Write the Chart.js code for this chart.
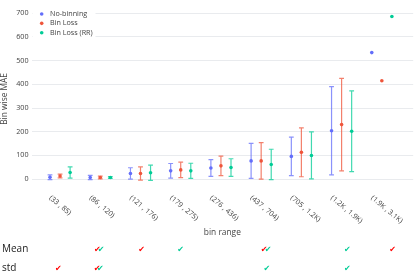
<!DOCTYPE html>
<html><head><meta charset="utf-8">
<script src="https://cdn.jsdelivr.net/npm/chart.js@4/dist/chart.umd.min.js"></script>
<style>html,body{margin:0;padding:0;background:#fff}#wrap{width:415px;height:274px}</style>
</head><body><div id="wrap"><canvas id="c" width="415" height="274"></canvas></div>
<script>
const categories = ["(33 , 85)","(86 , 120)","(121 , 176)","(179 , 275)","(276 , 436)","(437 , 704)","(705 , 1.2K)","(1.2K , 1.9K)","(1.9K , 3.1K)"];
const seriesNames = ["No-binning","Bin Loss","Bin Loss (RR)"];
const noBinMean = [8, 7, 24, 35, 47, 77, 96, 204, 534];
const noBinStd = [10, 9, 24, 31, 35, 74, 81, 186, 0];
const binLossMean = [13, 7, 24, 39, 56, 77, 113, 230, 415];
const binLossStd = [8, 6, 28, 33, 41, 77, 103, 195, 0];
const rrMean = [28, 7, 27, 35, 49, 62, 100, 202, 686];
const rrStd = [24, 4, 32, 32, 37, 64, 99, 170, 0];
const yTicks = [0, 100, 200, 300, 400, 500, 600, 700];
// check-mark annotations: [category index, series index]
const meanChecks = [[1,1],[1,2],[2,1],[3,2],[5,1],[5,2],[7,2],[8,1]];
const stdChecks = [[0,1],[1,1],[1,2],[5,2],[7,2]];
const meanNudge = [-0.07, 0.02, 0.03, 0, 0.07, 0.17, 0.14, 0.27];
const stdNudge = [-0.04, -0.08, 0, 0.14, 0.14];

const colors = ["#636efa", "#EF553B", "#00cc96"];
const barColors = ["rgba(99,110,250,0.75)", "rgba(239,85,59,0.75)", "rgba(0,204,150,0.75)"];
const checkColors = ["#636efa", "#ff0000", "#00cc96"];
const offsets = [-0.25, 0, 0.25];
const means = [noBinMean, binLossMean, rrMean];
const stds = [noBinStd, binLossStd, rrStd];
const FONT = "'Open Sans', 'DejaVu Sans', sans-serif";

const datasets = seriesNames.map((name, s) => ({
  label: name,
  data: means[s].map((v, i) => ({x: i + offsets[s], y: v, e: stds[s][i]})),
  backgroundColor: colors[s],
  borderColor: colors[s],
  pointRadius: 1.8,
  pointHoverRadius: 1.8,
  borderWidth: 0,
  showLine: false
}));

const extras = {
  id: 'extras',
  beforeDatasetsDraw(chart) {
    const ctx = chart.ctx, xs = chart.scales.x, ys = chart.scales.y;
    ctx.save();
    chart.data.datasets.forEach((ds, s) => {
      ctx.strokeStyle = barColors[s];
      ctx.lineWidth = 1.2;
      ds.data.forEach(p => {
        if (!p.e) return;
        const x = xs.getPixelForValue(p.x);
        const yt = ys.getPixelForValue(p.y + p.e);
        const yb = ys.getPixelForValue(p.y - p.e);
        ctx.beginPath();
        ctx.moveTo(x, yt); ctx.lineTo(x, yb);
        ctx.moveTo(x - 2.4, yt); ctx.lineTo(x + 2.4, yt);
        ctx.moveTo(x - 2.4, yb); ctx.lineTo(x + 2.4, yb);
        ctx.stroke();
      });
    });
    ctx.restore();
  },
  afterDraw(chart) {
    const ctx = chart.ctx, xs = chart.scales.x, ca = chart.chartArea;
    ctx.save();
    // x tick labels (rotated)
    ctx.fillStyle = '#444';
    ctx.font = '7.2px ' + FONT;
    ctx.textAlign = 'left';
    ctx.textBaseline = 'middle';
    categories.forEach((lab, i) => {
      const x = xs.getPixelForValue(i);
      ctx.save();
      ctx.translate(x - 10, 197);
      ctx.rotate(40 * Math.PI / 180);
      ctx.fillText(lab, 0, 0);
      ctx.restore();
    });
    // x title
    ctx.font = '8.4px ' + FONT;
    ctx.textAlign = 'center';
    ctx.fillText('bin range', (ca.left + ca.right) / 2, 233);
    // legend
    ctx.fillStyle = '#fff';
    ctx.fillRect(ca.left + 1, ca.top + 1, 63, 32);
    ctx.font = '7.2px ' + FONT;
    ctx.textAlign = 'left';
    seriesNames.forEach((n, s) => {
      const y = 14 + s * 9.35;
      ctx.fillStyle = colors[s];
      ctx.beginPath();
      ctx.arc(41.7, y, 1.8, 0, Math.PI * 2);
      ctx.fill();
      ctx.fillStyle = '#444';
      ctx.fillText(n, 50, y);
    });
    // Mean / std rows
    ctx.fillStyle = '#222';
    ctx.font = '10px ' + FONT;
    ctx.fillText('Mean', 2, 249.5);
    ctx.fillText('std', 2, 268.5);
    ctx.font = 'italic 8px "DejaVu Sans", sans-serif';
    ctx.textAlign = 'center';
    const drawChecks = (list, nudges, y) => {
      list.forEach((c, k) => {
        ctx.fillStyle = checkColors[c[1]];
        ctx.fillText('\u2714', xs.getPixelForValue(c[0] + nudges[k]), y);
      });
    };
    drawChecks(meanChecks, meanNudge, 249.5);
    drawChecks(stdChecks, stdNudge, 268.5);
    ctx.restore();
  }
};

new Chart(document.getElementById('c'), {
  type: 'scatter',
  data: { datasets },
  options: {
    responsive: false,
    animation: false,
    events: [],
    layout: { padding: { left: 0, right: 1.7, top: 6, bottom: 83.5 } },
    plugins: { legend: { display: false }, tooltip: { enabled: false } },
    scales: {
      x: { type: 'linear', min: -0.71, max: 8.78, display: false },
      y: {
        type: 'linear', min: -48, max: 725,
        afterBuildTicks: sc => { sc.ticks = yTicks.map(v => ({ value: v })); },
        afterFit: sc => { sc.width = 31.5; },
        grid: { color: '#e9ebee', lineWidth: 1, drawTicks: false },
        border: { display: false },
        ticks: { color: '#444', font: { family: FONT, size: 7.2 }, padding: 3 },
        title: { display: true, text: 'Bin wise MAE', color: '#444', font: { family: FONT, size: 8.4 }, padding: { top: 0, bottom: 0 } }
      }
    }
  },
  plugins: [extras]
});
</script></body></html>
